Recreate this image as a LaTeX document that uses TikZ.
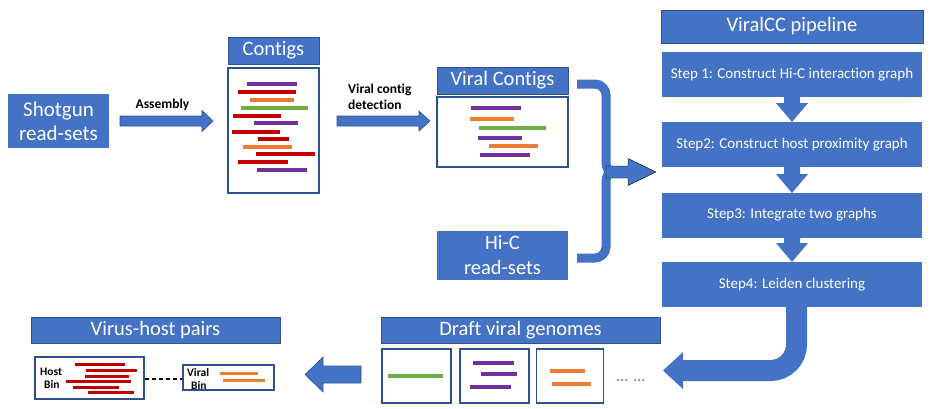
\documentclass[tikz,border=0pt]{standalone}
\usepackage{fontspec}
\setmainfont{Carlito}[Ligatures={NoCommon,NoContextual,NoRequired},Contextuals=NoAlternate]
\definecolor{ublue}{HTML}{4472C4}
\definecolor{udark}{HTML}{2F528F}
\definecolor{upurple}{HTML}{7030A0}
\definecolor{ured}{HTML}{C00000}
\definecolor{uorange}{HTML}{ED7D31}
\definecolor{ugreen}{HTML}{70AD47}
\newcommand\tbrk{t\kern0pt i}
\tikzset{
  bluebox/.style={fill=ublue, text=white, inner sep=0pt, align=center,
    font=\fontsize{20.5}{25}\selectfont},
  titlebox/.style={bluebox, draw=udark, line width=0.8pt},
  whitebox/.style={draw=udark, line width=1.1pt, fill=white, inner sep=0pt},
  stepbox/.style={fill=ublue, text=white, inner sep=0pt, minimum width=260pt,
    minimum height=45pt, font=\fontsize{15}{18}\selectfont},
  lbl/.style={font=\fontsize{13.5}{16}\selectfont\bfseries, inner sep=0pt, align=left},
  binlbl/.style={font=\fontsize{11.5}{13}\selectfont\bfseries, inner sep=0pt, anchor=west},
  blockarrow/.style={fill=ublue, draw=udark, line width=0.6pt},
  flatarrow/.style={fill=ublue},
  bar/.style={line width=4pt},
  thinbar/.style={line width=3pt},
}
% x1 = tail x, x2 = tip x, x3 = head base x, y = centre, shaft half, head half
\newcommand\rblockarrow[7][blockarrow]{%
  \filldraw[#1] (#2,#5-#6) -- (#4,#5-#6) -- (#4,#5-#7) -- (#3,#5) -- (#4,#5+#7)
    -- (#4,#5+#6) -- (#2,#5+#6) -- cycle;}
% vertical: x centre, y1 top, y2 tip, y3 head base, shaft half, head half
\newcommand\dblockarrow[6]{%
  \fill[ublue] (#1-#5,#2) -- (#1-#5,#4) -- (#1-#6,#4) -- (#1,#3) -- (#1+#6,#4)
    -- (#1+#5,#4) -- (#1+#5,#2) -- cycle;}
\begin{document}
\begin{tikzpicture}[x=1pt,y=-1pt]
\useasboundingbox (0,0) rectangle (933,408);

% ---------- Shotgun ----------
\node[bluebox, minimum width=101pt, minimum height=54pt,
  font=\fontsize{21}{24}\selectfont] (shot) at (58.5,121) {Shotgun\\read-sets};

% Assembly arrow
\rblockarrow{120}{213}{202}{121}{5}{10.5}
\node[lbl] (asm) at (162.5,105) {Assembly};

% ---------- Contigs ----------
\node[titlebox, minimum width=91pt, minimum height=27pt] (contT) at (273.5,50.5) {Con\tbrk gs};
\node[whitebox, minimum width=91pt, minimum height=125pt] (contB) at (273.5,130.5) {};
\draw[bar, upurple] (247,84) -- (297,84);
\draw[bar, ured] (238,92) -- (296,92);
\draw[bar, uorange] (250,100) -- (294,100);
\draw[bar, ugreen] (241,108) -- (308,108);
\draw[bar, ured] (233,116) -- (281,116);
\draw[bar, upurple] (254,123) -- (298,123);
\draw[bar, ured] (232,132) -- (280,132);
\draw[bar, ured] (258,139) -- (289,139);
\draw[bar, uorange] (243,147) -- (292,147);
\draw[bar, ured] (256,154) -- (315,154);
\draw[bar, ured] (238,162) -- (288,162);
\draw[bar, upurple] (257,170) -- (307,170);

% Viral contig detection arrow
\rblockarrow{337}{430}{419}{121}{5}{10}
\node[lbl, anchor=north west] (vcd) at (348,84) {Viral con\tbrk g\\detec\tbrk on};

% ---------- Viral Contigs ----------
\node[titlebox, minimum width=131pt, minimum height=27pt] (vcT) at (502.5,80.5) {Viral Con\tbrk gs};
\node[whitebox, minimum width=131pt, minimum height=70pt] (vcB) at (502.5,132) {};
\draw[bar, upurple] (471,108) -- (521,108);
\draw[bar, uorange] (470,119) -- (514,119);
\draw[bar, ugreen] (479,128) -- (546,128);
\draw[bar, upurple] (478,138) -- (522,138);
\draw[bar, uorange] (489,146) -- (538,146);
\draw[bar, upurple] (480,155) -- (530,155);

% ---------- Hi-C ----------
\node[bluebox, minimum width=131pt, minimum height=49pt] (hic) at (502.5,255.5) {Hi-C\\read-sets};

% ---------- Brace and arrow ----------
\draw[ublue, line width=9pt] (577,84) -- (595,84)
  .. controls (601,84) and (606,89) .. (606,95) -- (606,162)
  .. controls (606,168) and (608,172) .. (614,172);
\draw[ublue, line width=9pt] (577,258) -- (595,258)
  .. controls (601,258) and (606,253) .. (606,247) -- (606,182)
  .. controls (606,176) and (608,172) .. (614,172);
\rblockarrow[flatarrow]{606}{656}{628}{172}{6}{13.5}

% ---------- ViralCC pipeline ----------
\node[titlebox, minimum width=262pt, minimum height=33pt] (pipeT) at (792,26.5) {ViralCC pipeline};
\node[stepbox] (s1) at (792,74.5) {Step 1: Construct Hi-C interac\tbrk on graph};
\node[stepbox] (s2) at (792,144.5) {Step2: Construct host proximity graph};
\node[stepbox] (s3) at (792,215) {Step3: Integrate two graphs};
\node[stepbox] (s4) at (792,284.5) {Step4: Leiden clustering};
\dblockarrow{792}{97}{122}{103}{8}{16}
\dblockarrow{792}{167}{193}{174}{8}{16}
\dblockarrow{792}{237}{262}{243}{8}{16}

% big bent arrow
\draw[ublue, line width=21pt] (796.5,307) -- (796.5,344.5)
  .. controls (796.5,358.9) and (784.9,370.5) .. (770.5,370.5) -- (682,370.5);
\fill[ublue] (683,352) -- (663,370.5) -- (683,389) -- cycle;

% ---------- Draft viral genomes ----------
\node[titlebox, minimum width=279pt, minimum height=26pt] (draftT) at (520.5,330) {Draft viral genomes};
\node[whitebox, minimum width=69pt, minimum height=54pt] (d1) at (416.5,376) {};
\node[whitebox, minimum width=69pt, minimum height=54pt] (d2) at (494.5,376) {};
\node[whitebox, minimum width=67pt, minimum height=54pt] (d3) at (570,376) {};
\draw[bar, ugreen] (388,376) -- (443,376);
\draw[bar, upurple] (473,363) -- (514,363);
\draw[bar, upurple] (481,374) -- (517,374);
\draw[bar, upurple] (470,387) -- (511,387);
\draw[bar, uorange] (550,371) -- (585,371);
\draw[bar, uorange] (552,384) -- (591,384);
\node[text=ublue, font=\fontsize{16}{20}\selectfont, inner sep=0pt, anchor=base west] (dots) at (616,381) {...\hspace{5pt}...};

% left arrow
\rblockarrow{361}{305}{323}{374.5}{8.5}{17.5}

% ---------- Virus-host pairs ----------
\node[titlebox, minimum width=249pt, minimum height=26pt] (vhT) at (155.5,330) {Virus-host pairs};
\node[whitebox, minimum width=109pt, minimum height=42pt] (host) at (89.5,378) {};
\node[whitebox, minimum width=91pt, minimum height=25pt] (viral) at (228.5,377.5) {};
\draw[thinbar, ured] (75,364) -- (125,364);
\draw[thinbar, ured] (86,370) -- (137,370);
\draw[thinbar, ured] (85,376) -- (129,376);
\draw[thinbar, ured] (66,381) -- (131,381);
\draw[thinbar, ured] (73,387) -- (119,387);
\draw[thinbar, ured] (88,392) -- (134,392);
\draw[thinbar, uorange] (220,373) -- (258,373);
\draw[thinbar, uorange] (223,380) -- (265,380);
\node[binlbl] (hostL1) at (40,372) {Host};
\node[binlbl] (hostL2) at (44,384) {Bin};
\node[binlbl] (virL1) at (187,372) {Viral};
\node[binlbl] (virL2) at (191,385) {Bin};
\draw[line width=1.2pt, dash pattern=on 4pt off 3pt] (host.east |- 0,379) -- (viral.west |- 0,379);
\end{tikzpicture}
\end{document}
